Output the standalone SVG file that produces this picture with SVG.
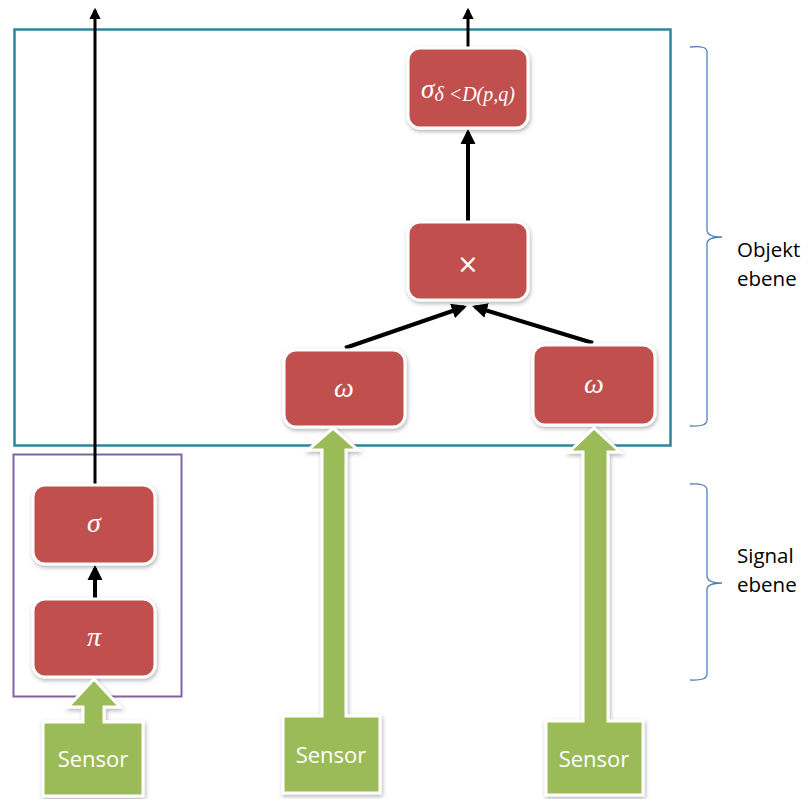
<svg xmlns="http://www.w3.org/2000/svg" width="809" height="799" viewBox="0 0 809 799">
  <style>
    .node rect { fill: #C0504D; stroke: #FFFFFF; stroke-width: 3; filter: url(#shadow); }
    .math { font-family: "Liberation Serif", "DejaVu Serif", serif; font-style: italic; fill: #FFFFFF; text-anchor: middle; }
    .sensor path { fill: #9BBB59; stroke: #FFFFFF; stroke-width: 3; stroke-linejoin: miter; filter: url(#shadow); }
    .label { font-family: "Open Sans", "Noto Sans", sans-serif; font-size: 22px; }
    .side { font-family: "Open Sans", "Noto Sans", sans-serif; font-size: 20.5px; }
    .sensor text { fill: #FFFFFF; text-anchor: middle; }
    .edge { stroke: #000000; fill: none; }
    .brace { stroke: #4F81BD; stroke-width: 1.3; fill: none; }
  </style>
  <defs>
    <filter id="shadow" x="-20%" y="-20%" width="140%" height="140%">
      <feDropShadow dx="1" dy="2" stdDeviation="2" flood-color="#000000" flood-opacity="0.3"/>
    </filter>
    <marker id="head" viewBox="0 0 10 10" refX="8" refY="5" markerWidth="3.8" markerHeight="3.8" orient="auto">
      <path d="M0,0 L10,5 L0,10 Z" fill="#000000"/>
    </marker>
  </defs>

  <rect width="809" height="799" fill="#FFFFFF"/>

  <!-- level frames -->
  <rect id="object-level" x="14.5" y="29.5" width="656" height="416" fill="none" stroke="#31849B" stroke-width="2.5"/>
  <rect id="signal-level" x="13.5" y="454.5" width="168" height="242" fill="none" stroke="#8064A2" stroke-width="2"/>

  <!-- connectors -->
  <g id="connectors">
    <line class="edge" x1="95" y1="485" x2="95" y2="10" stroke-width="3" marker-end="url(#head)"/>
    <line class="edge" x1="468" y1="48" x2="468" y2="10" stroke-width="3" marker-end="url(#head)"/>
    <line class="edge" x1="468" y1="221" x2="468" y2="132" stroke-width="4" marker-end="url(#head)"/>
    <line class="edge" x1="345" y1="348" x2="464" y2="307" stroke-width="4" marker-end="url(#head)"/>
    <line class="edge" x1="593" y1="343" x2="475" y2="307" stroke-width="4" marker-end="url(#head)"/>
    <line class="edge" x1="95" y1="598" x2="95" y2="568" stroke-width="4" marker-end="url(#head)"/>
  </g>

  <!-- processing nodes -->
  <g id="node-select-dist" class="node">
    <rect x="408" y="48" width="120" height="80" rx="12"/>
    <text class="math" x="468" y="98"><tspan font-size="27">σ</tspan><tspan font-size="20" dy="3">δ &lt;D(p,q)</tspan></text>
  </g>
  <g id="node-product" class="node">
    <rect x="408" y="222" width="120" height="78" rx="12"/>
    <text x="468" y="273" font-family="DejaVu Sans, Liberation Sans, sans-serif" font-size="26" fill="#FFFFFF" text-anchor="middle">×</text>
  </g>
  <g id="node-omega-1" class="node">
    <rect x="284" y="350" width="121" height="77" rx="12"/>
    <text class="math" x="344" y="397" font-size="28">ω</text>
  </g>
  <g id="node-omega-2" class="node">
    <rect x="533" y="345" width="122" height="80" rx="12"/>
    <text class="math" x="594" y="393" font-size="28">ω</text>
  </g>
  <g id="node-sigma" class="node">
    <rect x="33" y="485" width="122" height="79" rx="12"/>
    <text class="math" x="94" y="532" font-size="28">σ</text>
  </g>
  <g id="node-pi" class="node">
    <rect x="33" y="599" width="122" height="78" rx="12"/>
    <text class="math" x="94" y="646" font-size="28">π</text>
  </g>

  <!-- sensors with their input arrows -->
  <g id="sensor-1" class="sensor">
    <path d="M43,722 L83,722 L83,707 L68,707 L94,679 L120,707 L104,707 L104,722 L143,722 L143,796 L43,796 Z"/>
    <text class="label" x="93" y="767">Sensor</text>
  </g>
  <g id="sensor-2" class="sensor">
    <path d="M283,716 L322,716 L322,450 L308,450 L333,428 L358,450 L346,450 L346,716 L380,716 L380,793 L283,793 Z"/>
    <text class="label" x="331" y="763">Sensor</text>
  </g>
  <g id="sensor-3" class="sensor">
    <path d="M546,721 L583,721 L583,452 L569,452 L594,428 L620,452 L608,452 L608,721 L643,721 L643,795 L546,795 Z"/>
    <text class="label" x="594" y="767">Sensor</text>
  </g>

  <!-- level braces -->
  <g id="brace-object">
    <path class="brace" d="M690,47 Q707,45 707,52 L707,230 Q707,237 722,237 Q707,237 707,244 L707,420 Q707,427 690,426"/>
    <text class="side" x="737" y="257">Objekt</text>
    <text class="side" x="737" y="286">ebene</text>
  </g>
  <g id="brace-signal">
    <path class="brace" d="M690,484 Q707,483 707,490 L707,576 Q707,583 722,583 Q707,583 707,590 L707,674 Q707,681 690,680"/>
    <text class="side" x="737" y="563">Signal</text>
    <text class="side" x="737" y="592">ebene</text>
  </g>
</svg>
